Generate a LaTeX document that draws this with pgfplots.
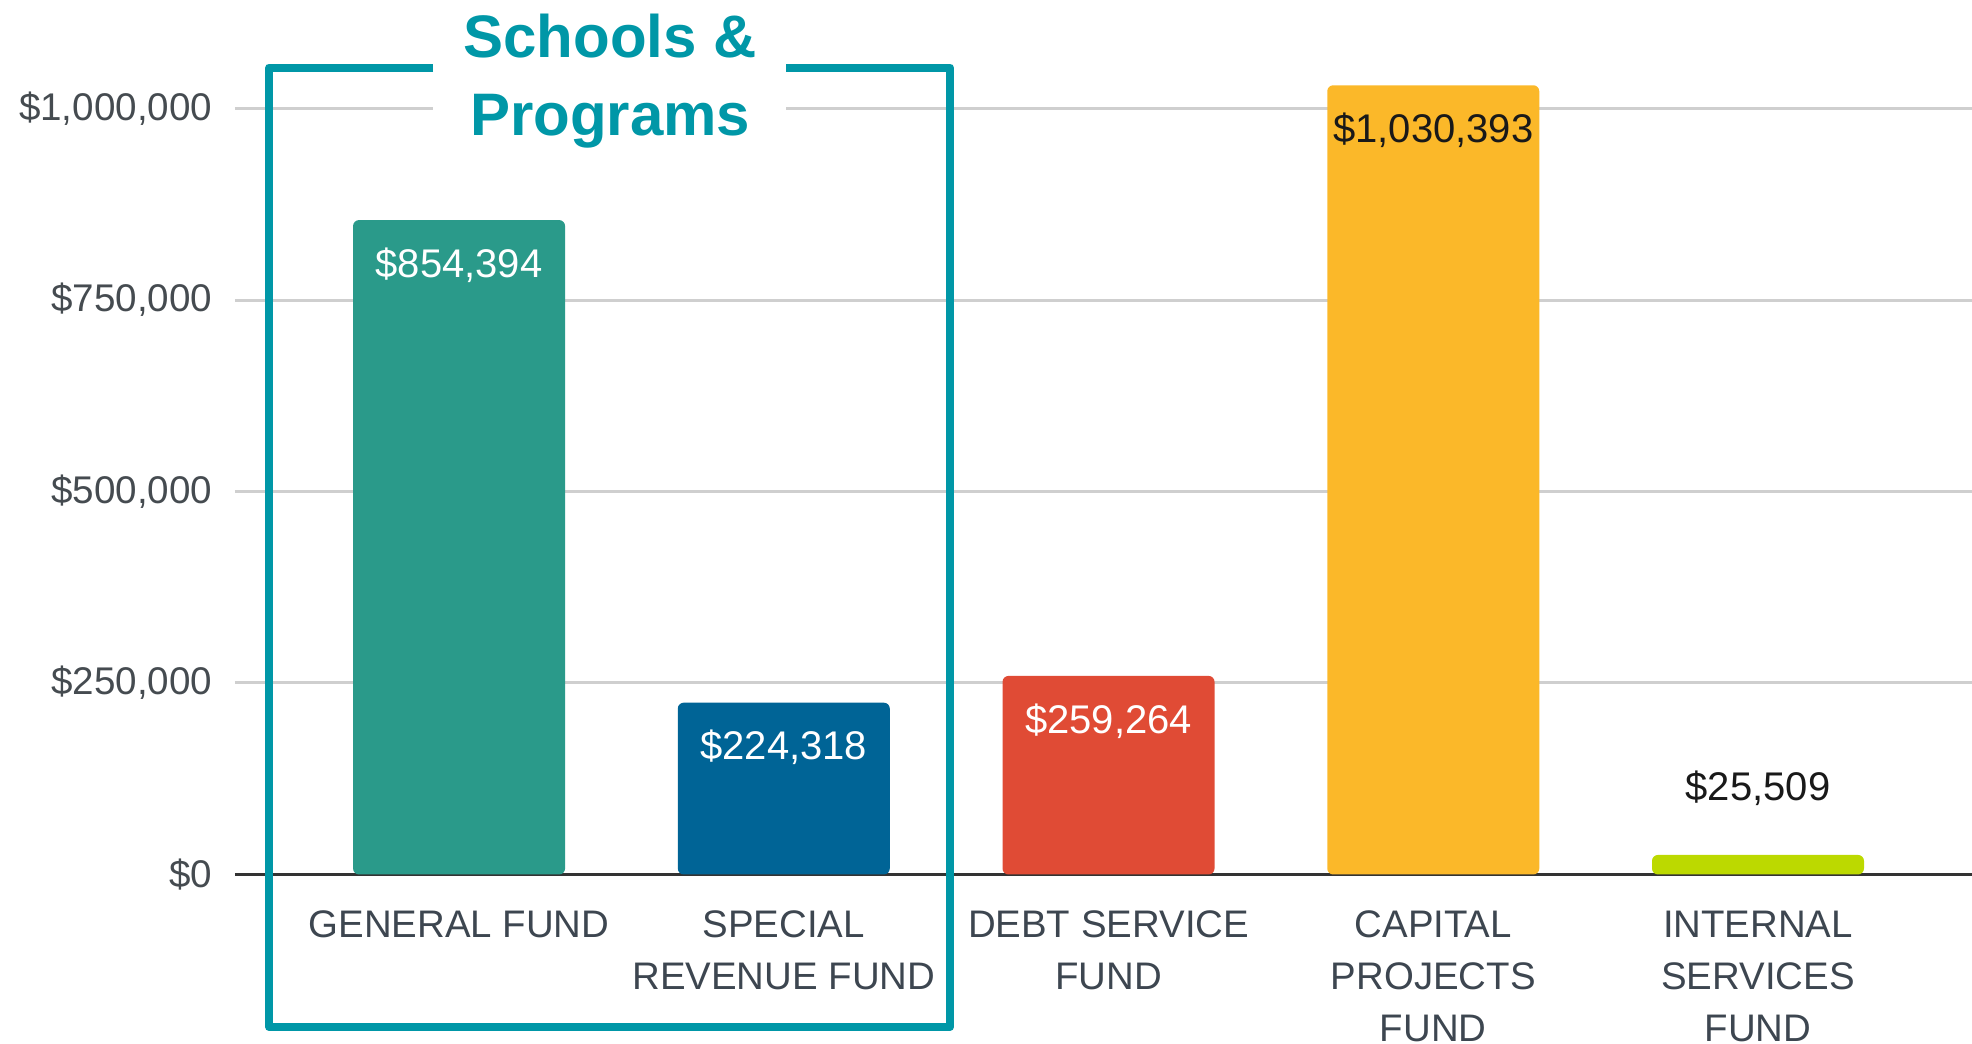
\documentclass[border=0pt]{standalone}
\usepackage{fontspec}
\setmainfont{Liberation Sans}
\usepackage{pgfplots}
\pgfplotsset{compat=1.18}
\definecolor{cGen}{HTML}{2A9A8A}
\definecolor{cSpe}{HTML}{006496}
\definecolor{cDeb}{HTML}{E04B35}
\definecolor{cCap}{HTML}{FBB829}
\definecolor{cInt}{HTML}{BCD900}
\definecolor{cBox}{HTML}{0097A7}
\definecolor{cLab}{HTML}{3D4650}
\definecolor{cTick}{HTML}{454B50}
\definecolor{cGrid}{HTML}{CFCFCF}
\begin{document}
\begin{tikzpicture}
\begin{axis}[
  name=ax,
  scale only axis,
  width=434.25pt, height=218.6pt,
  xmin=-0.690, xmax=4.659,
  ymin=0, ymax=1141600,
  clip=false,
  axis line style={draw=none},
  major tick length=0pt,
  ymajorgrids,
  grid style={color=cGrid, line width=0.75pt},
  scaled y ticks=false,
  ytick={250000,500000,750000,1000000},
  yticklabels={{\$250,000},{\$500,000},{\$750,000},{\$1,000,000}},
  extra y ticks={0},
  extra y tick labels={\$0},
  extra y tick style={grid style={color=black!80, line width=0.9pt}},
  yticklabel style={font=\fontsize{9.65}{11}\selectfont, text=cTick, anchor=east, inner sep=0pt, xshift=-5.5pt},
  xtick={0,1,2,3,4},
  xticklabels={GENERAL FUND, SPECIAL\\REVENUE FUND, DEBT SERVICE\\FUND, CAPITAL\\PROJECTS\\FUND, INTERNAL\\SERVICES\\FUND},
  xticklabel style={font=\fontsize{9.6}{13}\selectfont, text=cLab, align=center, anchor=north, inner sep=0pt, yshift=-8.9pt},
  /pgf/number format/assume math mode=true,
]
\addplot[ybar, bar width=53pt, bar shift=0pt, fill=cGen, draw=none, rounded corners=1.5pt,
  nodes near coords={\$854,394},
  nodes near coords style={anchor=center, yshift=-11.25pt, text=white, font=\fontsize{10}{12}\selectfont}]
  coordinates {(0,854394)};
\addplot[ybar, bar width=53pt, bar shift=0pt, fill=cSpe, draw=none, rounded corners=1.5pt,
  nodes near coords={\$224,318},
  nodes near coords style={anchor=center, yshift=-11.25pt, text=white, font=\fontsize{10}{12}\selectfont}]
  coordinates {(1,224318)};
\addplot[ybar, bar width=53pt, bar shift=0pt, fill=cDeb, draw=none, rounded corners=1.5pt,
  nodes near coords={\$259,264},
  nodes near coords style={anchor=center, yshift=-11.25pt, text=white, font=\fontsize{10}{12}\selectfont}]
  coordinates {(2,259264)};
\addplot[ybar, bar width=53pt, bar shift=0pt, fill=cCap, draw=none, rounded corners=1.5pt,
  nodes near coords={\$1,030,393},
  nodes near coords style={anchor=center, yshift=-11.25pt, text=black!90, font=\fontsize{10}{12}\selectfont}]
  coordinates {(3,1030393)};
\addplot[ybar, bar width=53pt, bar shift=0pt, fill=cInt, draw=none, rounded corners=1.5pt,
  nodes near coords={\$25,509},
  nodes near coords style={anchor=center, yshift=16.75pt, text=black!90, font=\fontsize{10}{12}\selectfont}]
  coordinates {(4,25509)};
% annotation box
\fill[white] (axis cs:-0.080,990200) rectangle (axis cs:1.007,1011100);
\draw[cBox, line width=2pt, line join=round]
  (axis cs:-0.080,1053500) -- (axis cs:-0.585,1053500) -- (axis cs:-0.585,-199100)
  -- (axis cs:1.512,-199100) -- (axis cs:1.512,1053500) -- (axis cs:1.007,1053500);
\node[anchor=base, text=cBox, font=\fontsize{15}{18}\selectfont\bfseries, inner sep=0pt] at (axis cs:0.465,1067200) {Schools \&};
\node[anchor=base, text=cBox, font=\fontsize{15}{18}\selectfont\bfseries, inner sep=0pt] at (axis cs:0.465,965400) {Programs};
\end{axis}
\pgfresetboundingbox
\path ([shift={(-58.75pt,-42.375pt)}]ax.south west) rectangle ([shift={(434.25pt,218.625pt)}]ax.south west);
\end{tikzpicture}
\end{document}
